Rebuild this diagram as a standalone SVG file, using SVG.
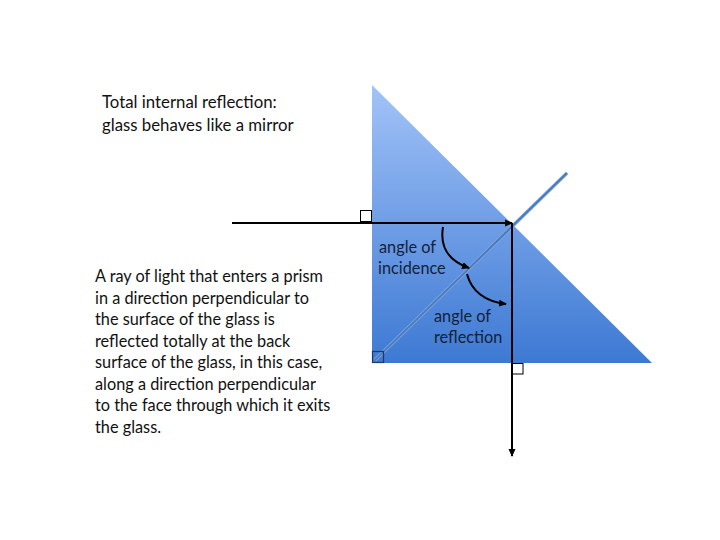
<svg xmlns="http://www.w3.org/2000/svg" width="720" height="540" viewBox="0 0 720 540">
<defs>
<linearGradient id="glass" x1="0" y1="85" x2="0" y2="363" gradientUnits="userSpaceOnUse">
<stop offset="0" stop-color="#a2c3f8"/>
<stop offset="1" stop-color="#3d79d3"/>
</linearGradient>
<marker id="arr" markerWidth="8" markerHeight="8" refX="7" refY="4" orient="auto" markerUnits="userSpaceOnUse">
<path d="M0,0.5 L8,4 L0,7.5 Z" fill="#000"/>
</marker>
</defs>
<style>
.t{font-family:"Lato","Liberation Sans",sans-serif;font-size:16.3px;fill:#111}
.h{font-size:16.8px}
.lbl{font-family:"Lato","Liberation Sans",sans-serif;font-size:16.3px;fill:#14213a}
.sq{fill:none;stroke:#000;stroke-width:1}
.ray{stroke:#000;stroke-width:2;fill:none}
</style>
<rect width="720" height="540" fill="#fff"/>
<g id="prism">
<polygon points="372,85 372,363 652,363" fill="url(#glass)"/>
</g>
<g id="normal">
<line x1="567" y1="173" x2="375" y2="360" stroke="#86aae0" stroke-width="3.5"/>
<line x1="567" y1="173" x2="375" y2="360" stroke="#4a7bbd" stroke-width="2"/>
</g>
<g id="right-angles">
<rect x="360.5" y="210.5" width="11" height="11" fill="#fff" stroke="#000" stroke-width="1"/>
<rect x="372.5" y="351.5" width="11" height="11" fill="none" stroke="#1d3a6b" stroke-width="1.2"/>
<rect class="sq" x="512.5" y="363.5" width="10.5" height="10.5"/>
</g>
<g id="connectors">
<line class="ray" x1="232" y1="223" x2="512" y2="223" marker-end="url(#arr)"/>
<line class="ray" x1="512" y1="223" x2="512" y2="456" marker-end="url(#arr)"/>
<path class="ray" d="M443,227 Q438,257 469,268" marker-end="url(#arr)"/>
<path class="ray" d="M467,274 Q474,300 506,304" marker-end="url(#arr)"/>
</g>
<g id="labels">
<text class="lbl" x="379" y="253">angle of</text>
<text class="lbl" x="378" y="274">incidence</text>
<text class="lbl" x="434" y="322">angle of</text>
<text class="lbl" x="434" y="343">reflection</text>
</g>
<g id="title">
<text class="t h" x="102" y="108">Total internal reflection:</text>
<text class="t h" x="102" y="131">glass behaves like a mirror</text>
</g>
<g id="description">
<text class="t" x="95" y="282">A ray of light that enters a prism</text>
<text class="t" x="95" y="303.5">in a direction perpendicular to</text>
<text class="t" x="95" y="325">the surface of the glass is</text>
<text class="t" x="95" y="346.5">reflected totally at the back</text>
<text class="t" x="95" y="368">surface of the glass, in this case,</text>
<text class="t" x="95" y="389.5">along a direction perpendicular</text>
<text class="t" x="95" y="411">to the face through which it exits</text>
<text class="t" x="95" y="432.5">the glass.</text>
</g>
</svg>
